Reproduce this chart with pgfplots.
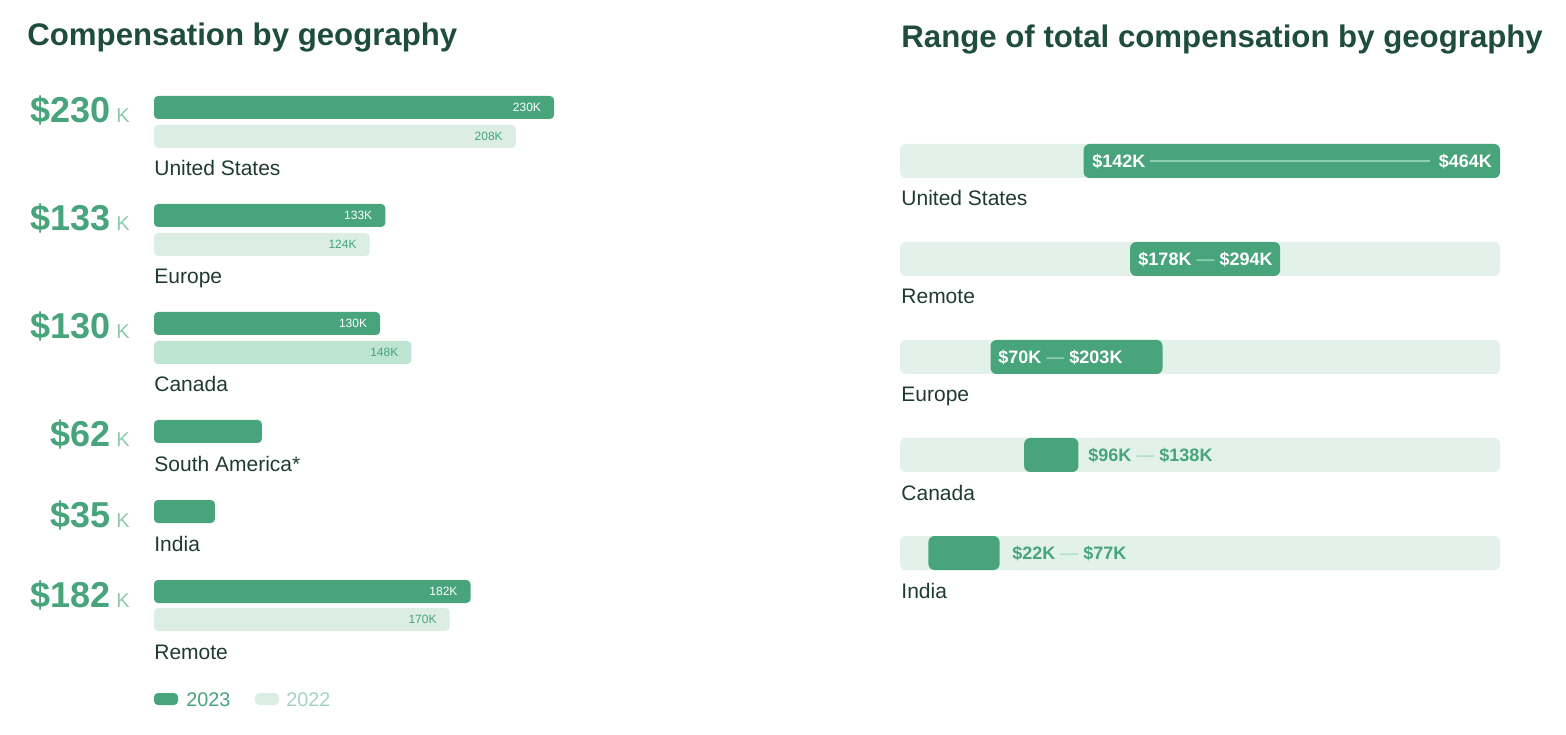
\documentclass[border=0pt]{standalone}
\usepackage{pgfplots}
\pgfplotsset{compat=1.18}
\usepackage{fontspec}
\setmainfont{Liberation Sans}
\definecolor{gmain}{HTML}{47A47B}
\definecolor{glight}{HTML}{DCEEE4}
\definecolor{gcan}{HTML}{BDE5D2}
\definecolor{gbg}{HTML}{E2F2EA}
\definecolor{gtitle}{HTML}{1E4D3B}
\definecolor{gcat}{HTML}{1F3B30}
\definecolor{gK}{HTML}{8CC9AD}
\definecolor{gleg}{HTML}{A4D4BD}
\definecolor{gline}{HTML}{8FD0B0}
\definecolor{gdash}{HTML}{B5DFCA}
\newcommand{\fs}[1]{\fontsize{#1}{#1}\selectfont}
\pgfplotsset{rightpanel/.style={
  at={(440pt,0pt)}, anchor=south west,
  scale only axis, hide axis, clip=false,
  x=0.646552pt, y=0.5pt,
  xmin=-15.467, xmax=515.03, ymin=-734, ymax=0}}
\begin{document}
\begin{tikzpicture}
% ---------------- left panel ----------------
\begin{axis}[
  at={(0pt,0pt)}, anchor=south west,
  scale only axis, hide axis, clip=false,
  x=0.869565pt, y=0.5pt,
  xmin=-88.55, xmax=417.45, ymin=-734, ymax=0,
  xbar, bar width=11.5pt, bar shift=0pt,
]
\addplot[draw=none, fill=gmain, rounded corners=2pt]
  coordinates {(230,-107.5) (133,-215.5) (130,-323.5) (62,-431.5) (35,-511.5) (182,-591.5)};
\addplot[draw=none, fill=glight, rounded corners=2pt]
  coordinates {(208,-136.5) (124,-244.5) (170,-619.5)};
\addplot[draw=none, fill=gcan, rounded corners=2pt]
  coordinates {(148,-352.5)};
% labels inside bars
\foreach \v/\y in {230/-107.5, 133/-215.5, 130/-323.5, 182/-591.5}{
  \edef\tmp{\noexpand\node[anchor=east, xshift=-3pt, text=white, font=\noexpand\fs{6}] at (axis cs:\v,\y) {\v K};}\tmp}
\foreach \v/\y in {208/-136.5, 124/-244.5, 148/-352.5, 170/-619.5}{
  \edef\tmp{\noexpand\node[anchor=east, xshift=-3pt, text=gmain, font=\noexpand\fs{6}] at (axis cs:\v,\y) {\v K};}\tmp}
% big values
\foreach \v/\y in {230/-123, 133/-231, 130/-339, 62/-447, 35/-527, 182/-607}{
  \edef\tmp{\noexpand\node[anchor=base east, inner sep=0pt, text=gmain, font=\noexpand\fs{18}\noexpand\bfseries] at (axis cs:-24.7,\y) {\noexpand\$\v};
  \noexpand\node[anchor=base west, inner sep=0pt, text=gK, font=\noexpand\fs{10}] at (axis cs:-21.85,\y) {K};}\tmp}
% category labels
\foreach \n/\y in {United States/-176, Europe/-284, Canada/-392, South America*/-471, India/-551, Remote/-659}{
  \edef\tmp{\noexpand\node[anchor=base west, inner sep=0pt, text=gcat, font=\noexpand\fs{10.5}] at (axis cs:0,\y) {\n};}\tmp}
% title
\node[anchor=base west, inner sep=0pt, text=gtitle, font=\fs{15.6}\bfseries] at (axis cs:-73.02,-46) {Compensation by geography};
% legend
\fill[gmain, rounded corners=2pt] (axis cs:0,-693) rectangle (axis cs:13.8,-705);
\node[anchor=base west, inner sep=0pt, text=gmain, font=\fs{9.9}] at (axis cs:18.4,-706) {2023};
\fill[glight, rounded corners=2pt] (axis cs:58.1,-693) rectangle (axis cs:71.9,-705);
\node[anchor=base west, inner sep=0pt, text=gleg, font=\fs{9.9}] at (axis cs:75.9,-706) {2022};
\end{axis}
% ---------------- right panel: background ----------------
\begin{axis}[rightpanel, xbar, bar width=17pt, bar shift=0pt]
\addplot[draw=none, fill=gbg, rounded corners=3pt]
  coordinates {(464,-161) (464,-259) (464,-357) (464,-455) (464,-553)};
\end{axis}
% ---------------- right panel: ranges ----------------
\begin{axis}[rightpanel, xbar stacked, bar width=17pt, bar shift=0pt]
% low end (invisible)
\addplot[draw=none, fill=none]
  coordinates {(142,-161) (178,-259) (70,-357) (96,-455) (22,-553)};
% high - low
\addplot[draw=none, fill=gmain, rounded corners=3pt]
  coordinates {(322,-161) (116,-259) (133,-357) (42,-455) (55,-553)};
\end{axis}
% ---------------- right panel: text ----------------
\begin{axis}[rightpanel]
\draw[gline, line width=0.6pt] (axis cs:193.3,-161) -- (axis cs:409.7,-161);
\node[anchor=base west, inner sep=0pt, text=white, font=\fs{9}\bfseries] at (axis cs:148.5,-167.5) {\$142K};
\node[anchor=base east, inner sep=0pt, text=white, font=\fs{9}\bfseries] at (axis cs:458,-167.5) {\$464K};
\node[anchor=base west, inner sep=0pt, text=white, font=\fs{9}\bfseries] at (axis cs:184.1,-265.5) {\$178K \textcolor{gline}{—} \$294K};
\node[anchor=base west, inner sep=0pt, text=white, font=\fs{9}\bfseries] at (axis cs:75.8,-363.5) {\$70K \textcolor{gline}{—} \$203K};
\node[anchor=base west, inner sep=0pt, text=gmain, font=\fs{9}\bfseries] at (axis cs:145.4,-461.5) {\$96K \textcolor{gdash}{—} \$138K};
\node[anchor=base west, inner sep=0pt, text=gmain, font=\fs{9}\bfseries] at (axis cs:86.6,-559.5) {\$22K \textcolor{gdash}{—} \$77K};
\foreach \n/\y in {United States/-206, Remote/-304, Europe/-402, Canada/-500, India/-598}{
  \edef\tmp{\noexpand\node[anchor=base west, inner sep=0pt, text=gcat, font=\noexpand\fs{10.5}] at (axis cs:0.77,\y) {\n};}\tmp}
\node[anchor=base west, inner sep=0pt, text=gtitle, font=\fs{15.6}\bfseries] at (axis cs:0.77,-48) {Range of total compensation by geography};
\end{axis}
\pgfresetboundingbox
\path (0,0) rectangle (783pt,367pt);
\end{tikzpicture}
\end{document}
